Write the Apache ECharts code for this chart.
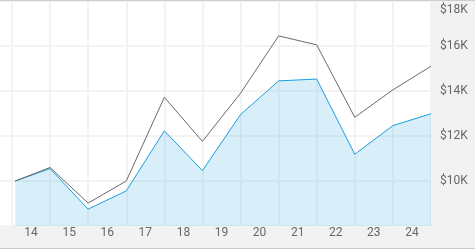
<!DOCTYPE html>
<html>
<head>
<meta charset="utf-8">
<script src="https://cdn.jsdelivr.net/npm/echarts@6/dist/echarts.min.js"></script>
<style>
html,body{margin:0;padding:0;background:#fff;}
#c{width:475px;height:250px;}
</style>
</head>
<body>
<div id="c"></div>
<script>
// Data
var dates = ['2014-01-31','2014-12-31','2015-12-31','2016-12-31','2017-12-31','2018-12-31','2019-12-31','2020-12-31','2021-12-31','2022-12-31','2023-12-31','2024-12-31'];
var fund = [10000, 10550, 8750, 9560, 12230, 10460, 12950, 14450, 14530, 11190, 12460, 12990];
var benchmark = [10000, 10600, 9020, 10000, 13720, 11760, 13900, 16450, 16050, 12830, 14050, 15100];
var yearLabels = ['14','15','16','17','18','19','20','21','22','23','24'];
var yMin = 8000, yMax = 18000, yStep = 2000;

function pairs(xs, ys){ return xs.map(function(d,i){ return [d, ys[i]]; }); }

var chart = echarts.init(document.getElementById('c'), null, {renderer:'canvas'});
var font = 'Roboto, "Noto Sans", sans-serif';
chart.setOption({
  animation: false,
  backgroundColor: '#f2f2f2',
  graphic: [
    {type:'rect', shape:{x:0,y:0,width:475,height:1}, style:{fill:'#cccccc'}, z:100},
    {type:'rect', shape:{x:0,y:248,width:475,height:1}, style:{fill:'#cccccc'}, z:100},
    {type:'rect', shape:{x:0,y:249,width:475,height:1}, style:{fill:'#ffffff'}, z:100}
  ],
  grid: [
    {left:0, right:44, top:1, bottom:24, show:true, backgroundColor:'#ffffff', borderWidth:0},
    {left:12, right:44, top:1, bottom:24}
  ],
  xAxis: [
    {type:'time', gridIndex:0, min:'2013-09-07', max:'2024-12-31', show:false, splitLine:{show:false}},
    {type:'category', gridIndex:1, data:yearLabels, boundaryGap:true,
     axisLine:{show:false}, axisTick:{show:false},
     axisLabel:{color:'#666666', fontSize:12, fontFamily:font, margin:1},
     splitLine:{show:true, lineStyle:{color:'#f3f3f3', width:2}}}
  ],
  yAxis: [
    {type:'value', gridIndex:0, position:'right', min:yMin, max:yMax, interval:yStep,
     axisLine:{show:false}, axisTick:{show:false},
     splitLine:{show:true, lineStyle:{color:'#f3f3f3', width:2}},
     axisLabel:{showMinLabel:false, color:'#666666', fontSize:12, fontFamily:font, margin:9,
       formatter:function(v){ var t='$'+(v/1000)+'K'; return v===yMax ? '{top|'+t+'}' : t; },
       rich:{top:{padding:[18,0,0,0], color:'#666666', fontSize:12, fontFamily:font}}}},
    {type:'value', gridIndex:1, show:false, min:yMin, max:yMax}
  ],
  series: [
    {name:'Fund', type:'line', xAxisIndex:0, yAxisIndex:0, data:pairs(dates, fund),
     symbol:'none', lineStyle:{color:'#1a9ee2', width:1}, itemStyle:{color:'#1a9ee2'},
     areaStyle:{color:'#1a9ee2', opacity:0.17}, z:3},
    {name:'Benchmark', type:'line', xAxisIndex:0, yAxisIndex:0, data:pairs(dates, benchmark),
     symbol:'none', lineStyle:{color:'#6a6a6a', width:1}, itemStyle:{color:'#6a6a6a'}, z:4}
  ]
});
</script>
</body>
</html>
